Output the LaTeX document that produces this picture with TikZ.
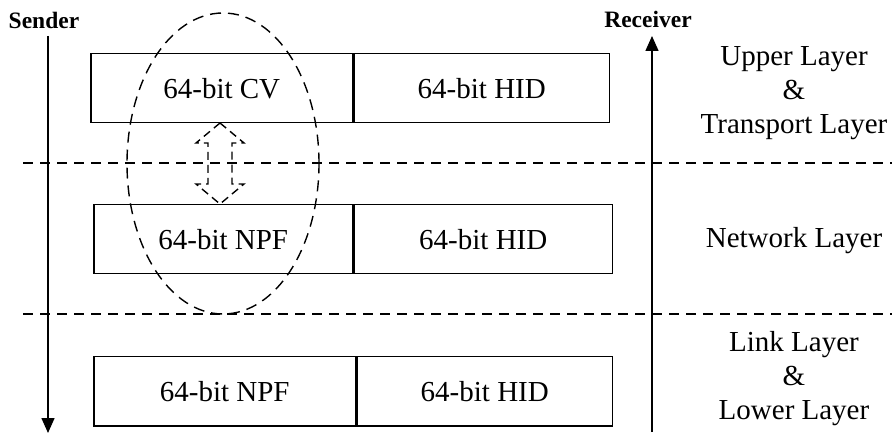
\documentclass[tikz,border=0pt]{standalone}
\usepackage{fontspec}
\setmainfont{Liberation Serif}
\usetikzlibrary{arrows.meta,shapes.geometric}
\begin{document}
\begin{tikzpicture}[x=1pt,y=-1pt,
  cell/.style={draw,line width=1.5pt,inner sep=0pt,anchor=north west,minimum height=69pt,font=\fontsize{29}{34}\selectfont},
  lbl/.style={align=center,font=\fontsize{29}{34}\selectfont},
  hdr/.style={font=\fontsize{23.5}{28}\selectfont\bfseries},
  sep/.style={dash pattern=on 10pt off 7pt,line width=1.4pt},
  flow/.style={line width=1.5pt,-{Triangle[length=15pt,width=13pt]}},
  hollow/.style={dash pattern=on 8pt off 5pt,line width=1.4pt}]
\useasboundingbox (0,0) rectangle (894,435);
% headers
\node[hdr] (snd) at (44,20) {Sender};
\node[hdr] (rcv) at (648,19) {Receiver};
\coordinate (st) at (48,36);
\coordinate (sb) at (48,433);
\coordinate (rb) at (652,432);
\coordinate (rt) at (652,36);
\draw[flow] (st) -- (sb);
\draw[flow] (rb) -- (rt);
% separators
\coordinate (d1a) at (23,163); \coordinate (d1b) at (892,163);
\coordinate (d2a) at (23,314); \coordinate (d2b) at (892,314);
\draw[sep] (d1a) -- (d1b);
\draw[sep] (d2a) -- (d2b);
% boxes
\node[cell,minimum width=262pt] (cv) at (90,53) {64-bit CV};
\node[cell,minimum width=255pt] (hid1) at (cv.north east) {64-bit HID};
\node[cell,minimum width=259pt] (npf1) at (93,204) {64-bit NPF};
\node[cell,minimum width=258pt] (hid2) at (npf1.north east) {64-bit HID};
\node[cell,minimum width=262pt] (npf2) at (93,356) {64-bit NPF};
\node[cell,minimum width=255pt] (hid3) at (npf2.north east) {64-bit HID};
% layer labels
\node[lbl] (up) at (794,93) {Upper Layer\\\&\\Transport Layer};
\node[lbl] (net) at (794,241) {Network Layer};
\node[lbl] (low) at (794,379) {Link Layer\\\&\\Lower Layer};
% ellipse
\node[draw,ellipse,dash pattern=on 11pt off 7pt,line width=1.4pt,minimum width=192pt,minimum height=301pt,inner sep=0pt] (ell) at (223,163.5) {};
% hollow double arrow
\draw[hollow] (220,123) -- (196,143) -- (208,143) -- (208,184) -- (196,184) -- (220,204)
  -- (244,184) -- (232,184) -- (232,143) -- (244,143) -- cycle;
\end{tikzpicture}
\end{document}
